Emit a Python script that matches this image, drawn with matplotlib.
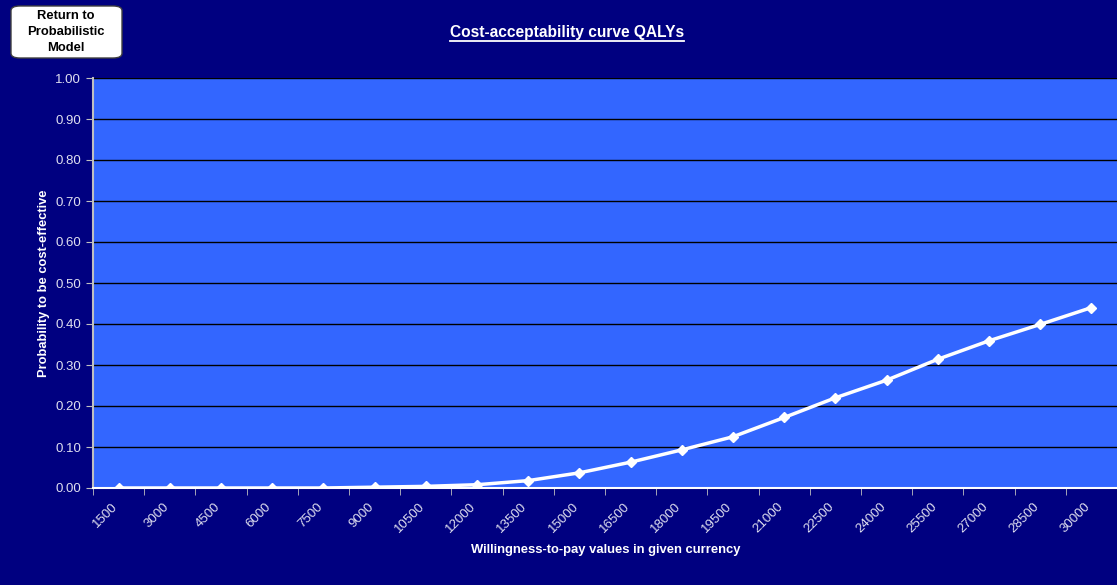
import matplotlib.pyplot as plt
from matplotlib.patches import FancyBboxPatch
from matplotlib.transforms import ScaledTranslation
import numpy as np

plt.rcParams['font.family'] = ['Liberation Sans', 'DejaVu Sans']

wtp = ['1500', '3000', '4500', '6000', '7500', '9000', '10500', '12000', '13500', '15000',
       '16500', '18000', '19500', '21000', '22500', '24000', '25500', '27000', '28500', '30000']
prob = [0.000, 0.000, 0.000, 0.000, 0.000, 0.002, 0.004, 0.008, 0.018, 0.037,
        0.063, 0.093, 0.125, 0.172, 0.220, 0.263, 0.314, 0.359, 0.399, 0.440]
yticks = np.arange(0, 1.01, 0.1)

navy = '#000080'
fig = plt.figure(figsize=(11.17, 5.85), dpi=100, facecolor=navy)
ax = fig.add_axes([93 / 1117, 97 / 585, 1024 / 1117, 410 / 585])
ax.set_facecolor('#3366FF')

x = np.arange(len(wtp))
ax.plot(x, prob, color='white', lw=2.5, marker='D', ms=5.5, mfc='white', mec='white', zorder=3)

ax.set_xlim(-0.5, len(wtp) - 0.5)
ax.set_ylim(0, 1)
ax.set_yticks(yticks)
ax.set_yticklabels(['%.2f' % v for v in yticks])
ax.yaxis.grid(True, color='black', lw=1)
ax.set_axisbelow(True)

ax.set_xticks(x)
ax.set_xticklabels(wtp, rotation=45, ha='right', rotation_mode='anchor')
ax.set_xticks(np.arange(-0.5, len(wtp)), minor=True)
ax.tick_params(axis='x', which='major', length=0, pad=9, labelsize=9.5, labelcolor='#e0e0f0')
ax.tick_params(axis='x', which='minor', length=5, color='#c0c0c0', direction='out')
ax.tick_params(axis='y', length=5, color='#c0c0c0', labelsize=9.5, labelcolor='#e0e0f0')
# nudge rotated labels left so they end just before the point
shift = ScaledTranslation(-7 / 100, 0, fig.dpi_scale_trans)
for lbl in ax.get_xticklabels():
    lbl.set_transform(lbl.get_transform() + shift)

for s in ['top', 'right']:
    ax.spines[s].set_visible(False)
ax.spines['left'].set_color('#c0c0c0')
ax.spines['left'].set_linewidth(1.5)
ax.spines['bottom'].set_color('white')
ax.spines['bottom'].set_linewidth(1.5)

ax.set_ylabel('Probability to be cost-effective', color='white', fontweight='bold', fontsize=9.3, labelpad=4)
fig.text(606 / 1117, 1 - 550 / 585, 'Willingness-to-pay values in given currency',
         color='white', fontweight='bold', fontsize=9.4, ha='center', va='center')

# underlined title
title = fig.text(567 / 1117, 1 - 32 / 585, 'Cost-acceptability curve QALYs', color='white',
                 fontweight='bold', fontsize=11.2, ha='center', va='center')
fig.canvas.draw()
bb = title.get_window_extent().transformed(fig.transFigure.inverted())
fig.add_artist(plt.Line2D([bb.x0, bb.x1], [bb.y0 - 0.002, bb.y0 - 0.002], color='white', lw=1.3,
                          transform=fig.transFigure))

# button in the corner
btn = FancyBboxPatch((11 / 1117, 1 - 58 / 585), 111 / 1117, 52 / 585,
                     boxstyle='round,pad=0,rounding_size=0.008', transform=fig.transFigure,
                     facecolor='white', edgecolor='#404040', lw=1)
fig.add_artist(btn)
fig.text(66 / 1117, 1 - 32 / 585, 'Return to\nProbabilistic\nModel', color='black',
         fontweight='bold', fontsize=9.4, ha='center', va='center', linespacing=1.4)

fig.savefig('out.png', dpi=100, facecolor=navy)
